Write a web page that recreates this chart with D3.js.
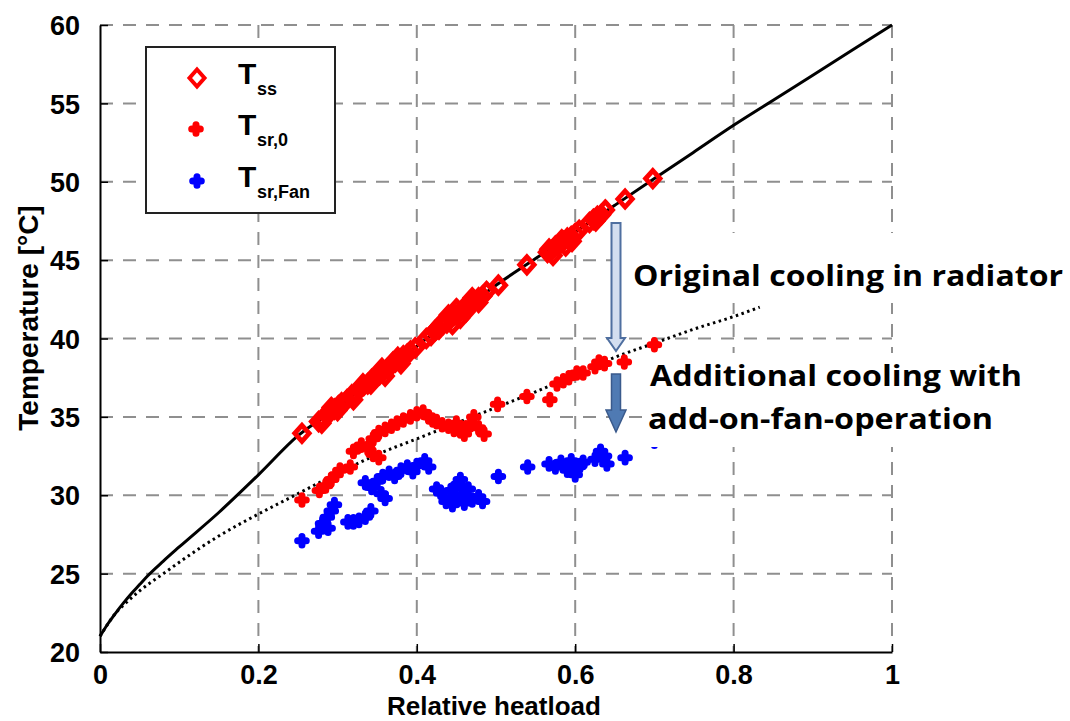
<!DOCTYPE html>
<html>
<head>
<meta charset="utf-8">
<script src="https://cdn.jsdelivr.net/npm/d3@7"></script>
<style>
html,body{margin:0;padding:0;background:#fff;}
svg{display:block;}
</style>
</head>
<body>
<svg id="chart" width="1070" height="721"></svg>
<script>
// ---------------- DATA ----------------
const xTicks = [0, 0.2, 0.4, 0.6, 0.8, 1];
const xTickLabels = ["0", "0.2", "0.4", "0.6", "0.8", "1"];
const yTicks = [20, 25, 30, 35, 40, 45, 50, 55, 60];
const yTickLabels = ["20", "25", "30", "35", "40", "45", "50", "55", "60"];

// solid line (steady state)
const solidX = [0, 0.01, 0.02, 0.03, 0.04, 0.05, 0.06, 0.08, 0.1, 0.15, 0.2, 0.25, 0.3, 0.35, 0.4, 0.45, 0.5, 0.55, 0.6, 0.65, 0.7, 0.75, 0.8, 0.85, 0.9, 0.95, 1.0];
const solidY = [21, 21.8, 22.5, 23.15, 23.75, 24.3, 24.85, 25.8, 26.7, 28.9, 31.3, 33.8, 35.6, 37.6, 39.5, 41.5, 43.4, 45.1, 46.8, 48.5, 50.2, 51.9, 53.6, 55.2, 56.8, 58.4, 60];

// dotted line (radiator outlet)
const dotX = [0, 0.01, 0.02, 0.03, 0.05, 0.08, 0.105, 0.15, 0.2, 0.25, 0.3, 0.35, 0.4, 0.45, 0.5, 0.55, 0.6, 0.65, 0.7, 0.75, 0.8, 0.833];
const dotY = [21, 21.8, 22.5, 23.0, 23.9, 25.0, 25.9, 27.4, 28.8, 30.1, 31.4, 32.6, 33.6, 34.6, 35.6, 36.6, 37.7, 38.8, 39.7, 40.6, 41.4, 42.0];

// T_ss
const tssX = [0.255, 0.276, 0.281, 0.286, 0.291, 0.296, 0.301, 0.305, 0.280, 0.292, 0.300,
  0.312, 0.318, 0.323, 0.328, 0.333, 0.338, 0.343, 0.348, 0.320, 0.332, 0.342,
  0.353, 0.358, 0.363, 0.368, 0.373, 0.378, 0.383, 0.388, 0.392, 0.360, 0.370, 0.380, 0.356, 0.376,
  0.398, 0.412,
  0.418, 0.423, 0.428, 0.433, 0.438, 0.443, 0.448, 0.453, 0.458, 0.463, 0.468, 0.473, 0.478, 0.483, 0.488,
  0.440, 0.455, 0.470, 0.450, 0.430, 0.462, 0.478, 0.445, 0.425,
  0.503, 0.539,
  0.565, 0.570, 0.575, 0.580, 0.585, 0.590, 0.595, 0.600, 0.605, 0.572, 0.583, 0.596, 0.567, 0.588,
  0.618, 0.623, 0.628, 0.633, 0.638, 0.626, 0.663, 0.698];
const tssY = [33.95, 34.7, 34.9, 35.1, 35.3, 35.5, 35.7, 35.9, 34.6, 35.6, 35.4,
  36.1, 36.4, 36.5, 36.8, 37.0, 37.1, 37.4, 37.5, 36.1, 37.1, 37.1,
  37.7, 37.9, 38.1, 38.3, 38.5, 38.6, 38.9, 39.0, 39.2, 37.6, 38.5, 38.4, 38.1, 38.8,
  39.4, 40.0,
  40.2, 40.5, 40.6, 40.9, 41.0, 41.3, 41.5, 41.6, 41.9, 42.0, 42.2, 42.4, 42.6, 42.7, 43.0,
  41.5, 41.3, 42.6, 41.9, 40.9, 41.7, 42.3, 40.9, 40.6,
  43.4, 44.7,
  45.5, 45.6, 45.9, 46.0, 46.2, 46.4, 46.5, 46.7, 46.9, 45.3, 46.3, 46.2, 45.7, 45.9,
  47.4, 47.6, 47.8, 47.9, 48.2, 47.5, 48.9, 50.2];

// T_sr,0
const tsr0X = [0.255, 0.277, 0.285, 0.292, 0.298, 0.303, 0.316, 0.320, 0.330, 0.338, 0.345, 0.352,
  0.345, 0.352, 0.360, 0.368, 0.375, 0.383, 0.392, 0.400, 0.408, 0.415, 0.420,
  0.425, 0.432, 0.440, 0.447, 0.455, 0.462, 0.468, 0.472, 0.478, 0.485, 0.450, 0.460,
  0.502, 0.539, 0.568, 0.577, 0.585, 0.592, 0.602, 0.610, 0.625, 0.630, 0.637, 0.662, 0.700];
const tsr0Y = [29.7, 30.3, 30.6, 31.0, 31.3, 31.6, 31.8, 32.8, 33.2, 33.0, 32.6, 32.4,
  33.6, 34.0, 34.2, 34.4, 34.6, 34.8, 35.0, 35.2, 35.3, 35.0, 34.8,
  34.7, 34.5, 34.4, 34.2, 34.1, 34.3, 34.5, 35.0, 34.3, 33.9, 34.6, 33.9,
  35.8, 36.3, 36.1, 37.1, 37.3, 37.5, 37.8, 37.8, 38.2, 38.5, 38.4, 38.5, 39.6];

// T_sr,Fan
const tsrFanX = [0.255, 0.276, 0.281, 0.287, 0.292, 0.296, 0.288,
  0.313, 0.320, 0.327, 0.335, 0.342,
  0.335, 0.343, 0.350, 0.355, 0.360, 0.357, 0.365, 0.372, 0.380, 0.388, 0.395, 0.400, 0.410, 0.415,
  0.425, 0.430, 0.437, 0.443, 0.448, 0.452, 0.457, 0.460, 0.465, 0.470, 0.478, 0.483, 0.445, 0.455,
  0.503, 0.540, 0.567, 0.575, 0.582, 0.590, 0.595, 0.600, 0.606, 0.610,
  0.625, 0.632, 0.637, 0.640, 0.663, 0.700];
const tsrFanY = [27.1, 27.7, 28.2, 28.6, 29.0, 29.4, 27.9,
  28.3, 28.3, 28.4, 28.6, 29.0,
  30.8, 30.5, 30.9, 30.1, 29.8, 31.2, 31.4, 31.2, 31.6, 31.8, 31.5, 31.9, 32.2, 31.8,
  30.4, 30.2, 29.6, 30.3, 29.8, 30.7, 30.0, 29.5, 30.4, 29.7, 29.9, 29.6, 29.4, 31.0,
  31.2, 31.8, 32.0, 31.8, 32.1, 31.6, 32.2, 31.3, 31.9, 32.1,
  32.3, 32.8, 32.5, 32.0, 32.4, 33.45];

const legendNames = [["T", "ss"], ["T", "sr,0"], ["T", "sr,Fan"]];
const annotLines = ["Original cooling in radiator", "Additional cooling with", "add-on-fan-operation"];

// ---------------- DRAW ----------------
const svg = d3.select("#chart");
const x = d3.scaleLinear().domain([0, 1]).range([100, 892]);
const y = d3.scaleLinear().domain([20, 60]).range([652, 25]);
const axisFont = "'Liberation Sans', Arial, sans-serif";

// grid
const grid = svg.append("g");
grid.selectAll("line.v").data(xTicks.slice(1)).join("line")
  .attr("x1", d => x(d)).attr("x2", d => x(d))
  .attr("y1", y(60)).attr("y2", y(20))
  .attr("stroke", "#8f8f8f").attr("stroke-width", 2).attr("stroke-dasharray", "13,10");
grid.selectAll("line.h").data(yTicks.slice(1)).join("line")
  .attr("x1", x(0)).attr("x2", x(1))
  .attr("y1", d => y(d)).attr("y2", d => y(d))
  .attr("stroke", "#8f8f8f").attr("stroke-width", 2).attr("stroke-dasharray", "13,10");

// axes
const yAxis = d3.axisLeft(y).tickValues(yTicks).tickFormat((d, i) => yTickLabels[i]).tickSizeInner(-8).tickSizeOuter(0).tickPadding(20);
const gy = svg.append("g").attr("transform", `translate(${x(0)},0)`).call(yAxis);
const xAxis = d3.axisBottom(x).tickValues(xTicks).tickFormat((d, i) => xTickLabels[i]).tickSizeInner(-8).tickSizeOuter(0).tickPadding(13);
const gx = svg.append("g").attr("transform", `translate(0,${y(20)})`).call(xAxis);
[gx, gy].forEach(g => {
  g.select(".domain").attr("stroke", "#000").attr("stroke-width", 2);
  g.selectAll(".tick line").attr("stroke", "#000").attr("stroke-width", 1.5);
  g.selectAll(".tick text").attr("fill", "#000").attr("font-family", axisFont)
    .attr("font-weight", "bold").attr("font-size", 27);
});
gy.selectAll(".tick text").attr("dy", "0.36em");
gx.selectAll(".tick text").attr("dy", "0.72em");

svg.append("text").attr("x", 494).attr("y", 715).attr("text-anchor", "middle")
  .attr("font-family", axisFont).attr("font-weight", "bold").attr("font-size", 26)
  .text("Relative heatload");
svg.append("text").attr("transform", "translate(38,318) rotate(-90)").attr("text-anchor", "middle")
  .attr("font-family", axisFont).attr("font-weight", "bold").attr("font-size", 28)
  .text("Temperature [°C]");

// curves
const line = d3.line().x(d => x(d[0])).y(d => y(d[1])).curve(d3.curveMonotoneX);
svg.append("path").attr("d", line(solidX.map((v, i) => [v, solidY[i]])))
  .attr("fill", "none").attr("stroke", "#000").attr("stroke-width", 3);
svg.append("path").attr("d", line(dotX.map((v, i) => [v, dotY[i]])))
  .attr("fill", "none").attr("stroke", "#000").attr("stroke-width", 3)
  .attr("stroke-dasharray", "2.5,3.5");

// markers
const diamondPath = "M0,-8L7.2,0L0,8L-7.2,0Z";
const plusPath = "M-4.3,0L4.3,0M0,-4.3L0,4.3";
svg.append("g").selectAll("path").data(tssX.map((v, i) => [v, tssY[i]])).join("path")
  .attr("transform", d => `translate(${x(d[0])},${y(d[1])})`)
  .attr("d", diamondPath).attr("fill", "none").attr("stroke", "#ff0000").attr("stroke-width", 4.8);
function plusMarks(xs, ys, color) {
  svg.append("g").selectAll("path").data(xs.map((v, i) => [v, ys[i]])).join("path")
    .attr("transform", d => `translate(${x(d[0])},${y(d[1])})`)
    .attr("d", plusPath).attr("fill", "none").attr("stroke", color)
    .attr("stroke-width", 7).attr("stroke-linecap", "round");
}
plusMarks(tsr0X, tsr0Y, "#ff0000");
plusMarks(tsrFanX, tsrFanY, "#0000ff");

// legend
const lg = svg.append("g");
lg.append("rect").attr("x", 146).attr("y", 47).attr("width", 189).attr("height", 166)
  .attr("fill", "#fff").attr("stroke", "#222").attr("stroke-width", 2);
const legRows = [78, 129, 181];
lg.append("path").attr("transform", `translate(197,${legRows[0]})`).attr("d", "M0,-8.5L7.5,0L0,8.5L-7.5,0Z")
  .attr("fill", "none").attr("stroke", "#ff0000").attr("stroke-width", 4);
lg.append("path").attr("transform", `translate(196,${legRows[1]})`).attr("d", plusPath)
  .attr("stroke", "#ff0000").attr("stroke-width", 7).attr("stroke-linecap", "round");
lg.append("path").attr("transform", `translate(197,${legRows[2]})`).attr("d", plusPath)
  .attr("stroke", "#0000ff").attr("stroke-width", 7).attr("stroke-linecap", "round");
legendNames.forEach((n, i) => {
  lg.append("text").attr("x", 238).attr("y", legRows[i] + 6).attr("font-family", axisFont)
    .attr("font-weight", "bold").attr("font-size", 30).text(n[0]);
  lg.append("text").attr("x", 257).attr("y", legRows[i] + 17).attr("font-family", axisFont)
    .attr("font-weight", "bold").attr("font-size", 18).text(n[1]);
});

// annotation boxes (white) + text
svg.append("rect").attr("x", 625).attr("y", 233).attr("width", 445).attr("height", 70).attr("fill", "#fff");
svg.append("rect").attr("x", 643).attr("y", 353).attr("width", 385).attr("height", 94).attr("fill", "#fff");

// arrows
const arrowShape = (cx, top, bot, headH, shaftHalf, headHalf) =>
  `M${cx - shaftHalf},${top}L${cx + shaftHalf},${top}L${cx + shaftHalf},${bot - headH}L${cx + headHalf},${bot - headH}` +
  `L${cx},${bot}L${cx - headHalf},${bot - headH}L${cx - shaftHalf},${bot - headH}Z`;
svg.append("path").attr("d", arrowShape(616, 223, 351, 13, 4.5, 9))
  .attr("fill", "#d3def0").attr("stroke", "#4f6fa0").attr("stroke-width", 2);
svg.append("path").attr("d", arrowShape(616, 374, 432, 22, 4.5, 10))
  .attr("fill", "#4f7ab3").attr("stroke", "#3a5a8c").attr("stroke-width", 1.5);

const annFont = "'Open Sans', 'Noto Sans', sans-serif";
const annPos = [[633, 286, 430], [650, 386, 372], [648, 429, 345]];
annotLines.forEach((t, i) => {
  svg.append("text").attr("x", annPos[i][0]).attr("y", annPos[i][1])
    .attr("font-family", annFont).attr("font-weight", "bold").attr("font-size", 28)
    .attr("fill", "#000").attr("textLength", annPos[i][2]).attr("lengthAdjust", "spacingAndGlyphs")
    .text(t);
});
</script>
</body>
</html>
